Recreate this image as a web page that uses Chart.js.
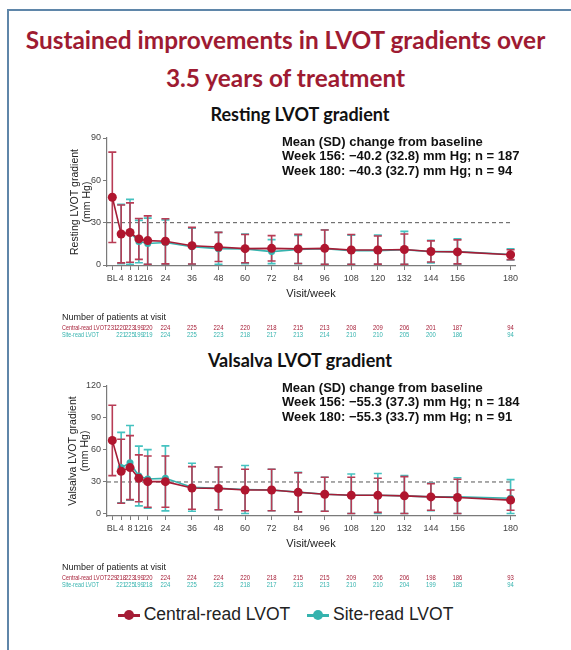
<!DOCTYPE html>
<html>
<head>
<meta charset="utf-8">
<script src="https://cdn.jsdelivr.net/npm/chart.js@4.4.0/dist/chart.umd.min.js"></script>
<style>
  body { margin: 0; width: 571px; height: 650px; overflow: hidden; position: relative; background: #fff;
         font-family: 'Liberation Sans', Arial, sans-serif; }
  #frame { position: absolute; left: 7px; top: 9px; width: 700px; height: 800px;
           border-left: 2px solid #5f86a9; border-top: 2px solid #5f86a9; }
  .title { position: absolute; left: 0; width: 571px; text-align: center; color: #9e1b32;
           font-family: Lato, sans-serif; font-weight: bold; font-size: 24.4px; line-height: 30px; }
  .sub { position: absolute; left: 30px; width: 540px; text-align: center; color: #111;
         font-family: Lato, sans-serif; font-weight: bold; font-size: 18px; line-height: 24px; }
  .box { position: absolute; left: 0; }
  #legend { position: absolute; top: 604px; left: 0; width: 571px; text-align: center; font-size: 17.5px; color: #222; }
  .item { display: inline-flex; align-items: center; margin: 0 6px; }
  .mk { position: relative; width: 22px; height: 14px; margin-right: 4px; }
  .mk i { position: absolute; left: 0; top: 6px; width: 22px; height: 3px; }
  .mk b { position: absolute; left: 6px; top: 2px; width: 10px; height: 10px; border-radius: 50%; }
</style>
</head>
<body>
<div id="frame"></div>
<div class="title" style="top:25px">Sustained improvements in LVOT gradients over</div>
<div class="title" style="top:63px">3.5 years of treatment</div>
<div class="sub" style="top:102px">Resting LVOT gradient</div>
<div class="sub" style="top:348px">Valsalva LVOT gradient</div>

<div class="box" style="top:125px"><canvas id="restChart" width="571" height="222"></canvas></div>
<div class="box" style="top:370px"><canvas id="valsChart" width="571" height="222"></canvas></div>

<div id="legend">
  <span class="item"><span class="mk"><i style="background:#a51d36"></i><b style="background:#a51d36"></b></span>Central-read LVOT</span>
  <span class="item"><span class="mk"><i style="background:#35b3ae"></i><b style="background:#35b3ae"></b></span>Site-read LVOT</span>
</div>

<script>
// visit weeks (0 = baseline)
var weeks = [0, 4, 8, 12, 16, 24, 36, 48, 60, 72, 84, 96, 108, 120, 132, 144, 156, 180];

// resting LVOT gradient, mm Hg
var restCentralMean = [48, 22, 23, 18.5, 17.3, 16.8, 13.7, 12.8, 11.6, 11.8, 11.4, 11.8, 10.6, 10.6, 11, 9.6, 9.3, 7.3];
var restCentralSD   = [32, 20.5, 21, 14.5, 17.5, 16, 13, 10.3, 10, 9, 10.3, 13, 11, 10, 11, 7.5, 8.5, 3.5];
var restSiteMean    = [null, 22, 23, 16.6, 15.2, 16, 13, 11.6, 11.4, 9.5, 11, 11.5, 10.2, 10.2, 10.8, 9.5, 9.5, 7.5];
var restSiteSD      = [null, 21, 23.5, 15, 18, 16, 13, 11.5, 10.5, 8.5, 10, 13.5, 11, 11, 13, 8, 9, 4];

// valsalva LVOT gradient, mm Hg
var valsCentralMean = [69, 40, 43.5, 33.4, 30.3, 30.3, 24.4, 24, 22.5, 22.5, 20.3, 18.5, 17.5, 17.5, 17, 16, 15.5, 13];
var valsCentralSD   = [33, 30, 30, 22, 24, 24, 20, 20, 19.5, 19.5, 18.3, 16, 17, 16, 18, 12.5, 17, 9.5];
var valsSiteMean    = [null, 43.5, 48, 35.6, 32.8, 33.4, 25, 24, 23, 22.5, 20.5, 18.5, 17.5, 17.5, 17, 16, 16, 14.7];
var valsSiteSD      = [null, 33, 35, 28, 27.5, 30.5, 22.5, 20, 22.5, 19.5, 18.5, 16, 20, 20.5, 19, 13, 18, 17.5];

// number of patients at visit
var restCentralN = [231, 220, 223, 199, 220, 224, 225, 224, 220, 218, 215, 213, 208, 209, 206, 201, 187, 94];
var restSiteN    = [null, 221, 225, 199, 219, 224, 225, 223, 218, 217, 213, 214, 210, 210, 205, 200, 186, 94];
var valsCentralN = [229, 218, 223, 199, 220, 224, 224, 224, 220, 218, 215, 215, 209, 206, 206, 198, 186, 93];
var valsSiteN    = [null, 221, 225, 199, 218, 224, 225, 223, 218, 217, 213, 213, 210, 210, 204, 199, 185, 94];

var RED = '#a51d36', RED_BAR = '#b83c55', TEAL = '#35b3ae', TEAL_BAR = '#45c2c0';
var tickFont = "'Liberation Sans', Arial, sans-serif";

function pts(means) {
  return weeks.map((w, i) => ({ x: w, y: means[i] }));
}

// squeezed text, the source figure uses a narrow face for the small labels
function narrowText(ctx, txt, x, y, align) {
  var sx = 0.74;
  var w = ctx.measureText(txt).width * sx;
  var left = align === 'center' ? x - w / 2 : x;
  ctx.save();
  ctx.translate(left, y);
  ctx.scale(sx, 1);
  ctx.textAlign = 'left';
  ctx.fillText(txt, 0, 0);
  ctx.restore();
}

// draws error bars, the 30 mm Hg reference, axis titles, notes and patient table
var overlay = {
  id: 'overlay',
  beforeDatasetsDraw(chart) {
    var o = chart.options.plugins.overlay;
    var ctx = chart.ctx, xs = chart.scales.x, ys = chart.scales.y, a = chart.chartArea;
    ctx.save();
    // dashed reference line
    ctx.strokeStyle = '#555';
    ctx.lineWidth = 1;
    ctx.setLineDash([4, 3]);
    ctx.beginPath();
    ctx.moveTo(a.left, ys.getPixelForValue(30));
    ctx.lineTo(xs.getPixelForValue(181), ys.getPixelForValue(30));
    ctx.stroke();
    ctx.setLineDash([]);
    // error bars, site first so central sits on top
    o.bars.forEach(b => {
      ctx.strokeStyle = b.color;
      ctx.lineWidth = 1.6;
      weeks.forEach((w, i) => {
        if (b.mean[i] == null) return;
        var x = xs.getPixelForValue(w);
        var hi = ys.getPixelForValue(b.mean[i] + b.sd[i]);
        var lo = ys.getPixelForValue(Math.max(b.mean[i] - b.sd[i], 0.5));
        ctx.beginPath();
        ctx.moveTo(x, hi); ctx.lineTo(x, lo);
        ctx.moveTo(x - 4, hi); ctx.lineTo(x + 4, hi);
        ctx.moveTo(x - 4, lo); ctx.lineTo(x + 4, lo);
        ctx.stroke();
      });
    });
    ctx.restore();
  },
  afterDraw(chart) {
    var o = chart.options.plugins.overlay;
    var ctx = chart.ctx, xs = chart.scales.x, a = chart.chartArea;
    ctx.save();
    // y axis title (two lines, rotated)
    ctx.fillStyle = '#222';
    ctx.font = "10.5px 'Liberation Sans', Arial, sans-serif";
    ctx.textAlign = 'center';
    ctx.textBaseline = 'middle';
    var cy = (a.top + a.bottom) / 2;
    o.yTitle.forEach((t, k) => {
      ctx.save();
      ctx.translate(o.yTitleX[k], cy);
      ctx.rotate(-Math.PI / 2);
      ctx.fillText(t, 0, 0);
      ctx.restore();
    });
    // x axis title
    ctx.font = "11px 'Liberation Sans', Arial, sans-serif";
    ctx.fillText('Visit/week', (a.left + a.right) / 2, a.bottom + 27.5);
    // notes
    ctx.textAlign = 'left';
    ctx.fillStyle = '#111';
    ctx.font = "bold 13px 'Liberation Sans', Arial, sans-serif";
    o.notes.forEach((t, k) => ctx.fillText(t, 282, a.top + o.noteTop + k * 14.8));
    // patient numbers
    ctx.font = "9px 'Liberation Sans', Arial, sans-serif";
    ctx.fillStyle = '#222';
    ctx.fillText('Number of patients at visit', 62, a.bottom + 51.5);
    var rows = [{ label: 'Central-read LVOT', n: o.centralN, color: RED, dy: 61.5 },
                { label: 'Site-read LVOT', n: o.siteN, color: TEAL, dy: 68.5 }];
    rows.forEach(r => {
      ctx.fillStyle = r.color;
      ctx.font = "7.3px 'Liberation Sans', Arial, sans-serif";
      narrowText(ctx, r.label, 62, a.bottom + r.dy, 'left');
      ctx.font = "8px 'Liberation Sans', Arial, sans-serif";
      weeks.forEach((w, i) => {
        if (r.n[i] == null) return;
        narrowText(ctx, String(r.n[i]), xs.getPixelForValue(w), a.bottom + r.dy, 'center');
      });
    });
    ctx.restore();
  }
};

function makeChart(id, cfg) {
  var axisColor = '#7a7a7a';
  return new Chart(document.getElementById(id), {
    type: 'line',
    data: {
      datasets: [
        { label: 'Central-read LVOT', data: pts(cfg.centralMean), borderColor: RED, backgroundColor: '#b0162f',
          borderWidth: 1.6, pointRadius: 4.5, pointBorderWidth: 0, tension: 0 },
        { label: 'Site-read LVOT', data: pts(cfg.siteMean), borderColor: TEAL, backgroundColor: TEAL,
          borderWidth: 1.6, pointRadius: 3.5, pointBorderWidth: 0, tension: 0 }
      ]
    },
    options: {
      responsive: false,
      animation: false,
      layout: { padding: { left: 0, right: 56, top: cfg.padTop, bottom: 0 } },
      plugins: {
        legend: { display: false },
        tooltip: { enabled: false },
        overlay: {
          bars: [{ mean: cfg.siteMean, sd: cfg.siteSD, color: TEAL_BAR },
                 { mean: cfg.centralMean, sd: cfg.centralSD, color: RED_BAR }],
          yTitle: cfg.yTitle, yTitleX: cfg.yTitleX,
          notes: cfg.notes, noteTop: cfg.noteTop,
          centralN: cfg.centralN, siteN: cfg.siteN
        }
      },
      scales: {
        x: {
          type: 'linear', min: -2.4, max: 182,
          afterBuildTicks: s => { s.ticks = weeks.map(w => ({ value: w })); },
          afterFit: s => { s.height = cfg.xHeight; },
          ticks: { autoSkip: false, maxRotation: 0, padding: 3, color: '#444',
                   font: { family: tickFont, size: 9 },
                   callback: v => v === 0 ? 'BL' : v },
          grid: { drawOnChartArea: false, tickLength: 4, color: axisColor },
          border: { color: axisColor, width: 1.2 }
        },
        y: {
          min: cfg.yMin, max: cfg.yMax,
          afterBuildTicks: s => { s.ticks = cfg.yTicks.map(v => ({ value: v })); },
          afterFit: s => { s.width = 107; },
          ticks: { padding: 2, color: '#444', font: { family: tickFont, size: 9 } },
          grid: { drawOnChartArea: false, tickLength: 4, color: axisColor },
          border: { color: axisColor, width: 1.2 }
        }
      }
    },
    plugins: [overlay]
  });
}

makeChart('restChart', {
  centralMean: restCentralMean, centralSD: restCentralSD, siteMean: restSiteMean, siteSD: restSiteSD,
  centralN: restCentralN, siteN: restSiteN,
  yMin: -0.7, yMax: 90, yTicks: [0, 30, 60, 90], padTop: 13, xHeight: 81,
  yTitle: ['Resting LVOT gradient', '(mm Hg)'], yTitleX: [75, 87],
  notes: ['Mean (SD) change from baseline', 'Week 156: \u221240.2 (32.8) mm Hg; n = 187', 'Week 180: \u221240.3 (32.7) mm Hg; n = 94'],
  noteTop: 4
});

makeChart('valsChart', {
  centralMean: valsCentralMean, centralSD: valsCentralSD, siteMean: valsSiteMean, siteSD: valsSiteSD,
  centralN: valsCentralN, siteN: valsSiteN,
  yMin: -1.9, yMax: 120, yTicks: [0, 30, 60, 90, 120], padTop: 16, xHeight: 76,
  yTitle: ['Valsalva LVOT gradient', '(mm Hg)'], yTitleX: [73, 85],
  notes: ['Mean (SD) change from baseline', 'Week 156: \u221255.3 (37.3) mm Hg; n = 184', 'Week 180: \u221255.3 (33.7) mm Hg; n = 91'],
  noteTop: 2
});
</script>
</body>
</html>
